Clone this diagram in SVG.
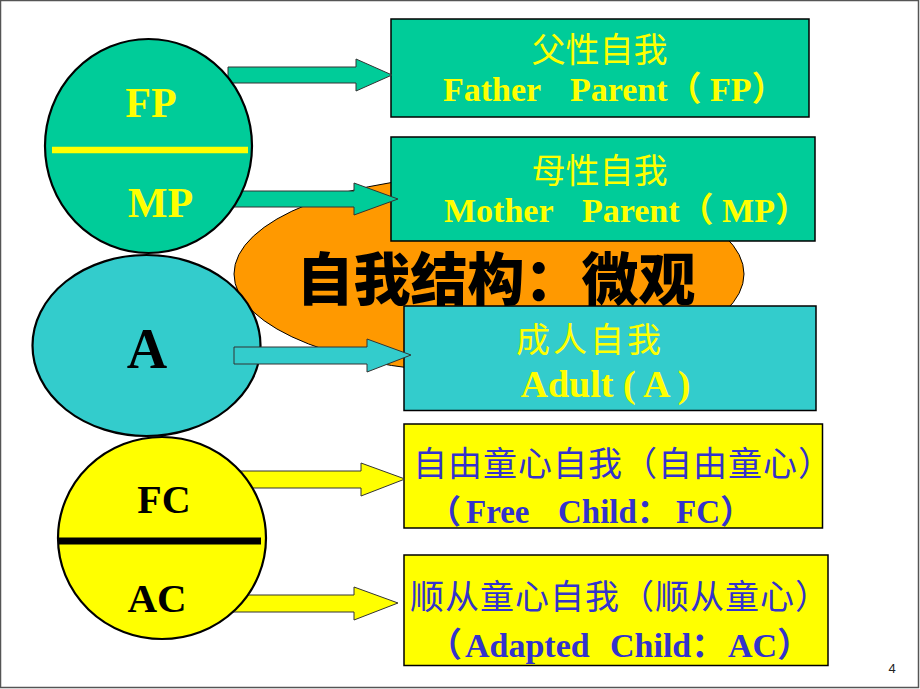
<svg xmlns="http://www.w3.org/2000/svg" width="920" height="689" viewBox="0 0 920 689">
<style>
.frame{fill:#fff;stroke:#555;stroke-width:1.5}
.gbox{fill:#00CC99;stroke:#000;stroke-width:1.5}
.cbox{fill:#33CCCC;stroke:#000;stroke-width:1.5}
.ybox{fill:#FFFF00;stroke:#000;stroke-width:1.5}
.circ{stroke:#000;stroke-width:2.2}
.arr{stroke:#333;stroke-width:1}
.cn{font-family:"Noto Sans CJK SC","Liberation Sans",sans-serif;font-size:34px}
.en{font-family:"Liberation Serif","Noto Sans CJK SC",serif;font-weight:bold}
.yl{fill:#FFFF00}
.bl{fill:#3333CC}
</style>
<rect class="frame" x="0.5" y="0.5" width="918" height="687"/>
<g id="title">
  <ellipse cx="489" cy="274" rx="255" ry="99" fill="#FF9900" stroke="#000" stroke-width="1"/>
  <text x="496" y="300" text-anchor="middle" font-family="Noto Sans CJK SC, sans-serif" font-weight="900" font-size="57" fill="#000">自我结构：微观</text>
</g>
<g id="box-fp">
  <rect class="gbox" x="391" y="19" width="418" height="98"/>
  <text class="cn yl" x="599.5" y="61.5" text-anchor="middle">父性自我</text>
  <text class="en yl" font-size="34" y="101"><tspan x="443">Father</tspan><tspan x="570">Parent（ FP）</tspan></text>
</g>
<g id="box-mp">
  <rect class="gbox" x="391" y="137" width="424" height="104"/>
  <text class="cn yl" x="599.5" y="182.5" text-anchor="middle">母性自我</text>
  <text class="en yl" font-size="34" y="222"><tspan x="444">Mother</tspan><tspan x="582">Parent（ MP）</tspan></text>
</g>
<g id="box-a">
  <rect class="cbox" x="404" y="306" width="412" height="104.5"/>
  <text class="cn yl" x="516" y="352" font-size="37" letter-spacing="3">成人自我</text>
  <text class="en yl" font-size="38" x="520.5" y="396.5">Adult ( A )</text>
</g>
<g id="box-fc">
  <rect class="ybox" x="404" y="424" width="418.5" height="104"/>
  <text class="cn bl" x="413" y="475.5" letter-spacing="1">自由童心自我（自由童心）</text>
  <text class="en bl" font-size="33" y="523"><tspan x="428">（</tspan><tspan x="466">Free</tspan><tspan x="558">Child：</tspan><tspan x="676">FC）</tspan></text>
</g>
<g id="box-ac">
  <rect class="ybox" x="404" y="555" width="424" height="110.5"/>
  <text class="cn bl" x="410" y="609" letter-spacing="1">顺从童心自我（顺从童心）</text>
  <text class="en bl" font-size="34" y="657"><tspan x="428">（</tspan><tspan x="465">Adapted</tspan><tspan x="610">Child：</tspan><tspan x="728">AC）</tspan></text>
</g>
<g id="node-a">
  <ellipse class="circ" cx="146.5" cy="345.5" rx="114" ry="90.5" fill="#33CCCC"/>
  <text class="en" x="147" y="367.5" text-anchor="middle" font-size="56" fill="#000">A</text>
</g>
<g id="connectors">
  <polygon class="arr" fill="#00CC99" points="228,67 356,67 356,59 392,75 356,91 356,83 228,83"/>
  <polygon class="arr" fill="#00CC99" points="230,191 354,191 354,183 398,199 354,215 354,207 230,207"/>
  <polygon class="arr" fill="#33CCCC" points="234,347 367,347 367,339 411,355 367,372 367,364 234,364"/>
  <polygon class="arr" fill="#FFFF00" points="238,471 361,471 361,463 405,479 361,496 361,488 238,488"/>
  <polygon class="arr" fill="#FFFF00" points="233,595 354,595 354,587 398,603 354,620 354,612 233,612"/>
</g>
<g id="node-fp-mp">
  <ellipse class="circ" cx="148.5" cy="146" rx="103.5" ry="107" fill="#00CC99"/>
  <line x1="52" y1="150" x2="248" y2="150" stroke="#FFFF00" stroke-width="6.5"/>
  <text class="en yl" x="151" y="117" text-anchor="middle" font-size="42">FP</text>
  <text class="en yl" x="160.5" y="217" text-anchor="middle" font-size="42">MP</text>
</g>
<g id="node-fc-ac">
  <ellipse class="circ" cx="162" cy="538" rx="104" ry="101" fill="#FFFF00"/>
  <line x1="59" y1="541" x2="261" y2="541" stroke="#000" stroke-width="7"/>
  <text class="en" x="164" y="512.5" text-anchor="middle" font-size="40" fill="#000">FC</text>
  <text class="en" x="157" y="612" text-anchor="middle" font-size="41" fill="#000">AC</text>
</g>
<text x="892" y="672.5" text-anchor="middle" font-family="Liberation Sans, sans-serif" font-size="13" fill="#222">4</text>
</svg>
